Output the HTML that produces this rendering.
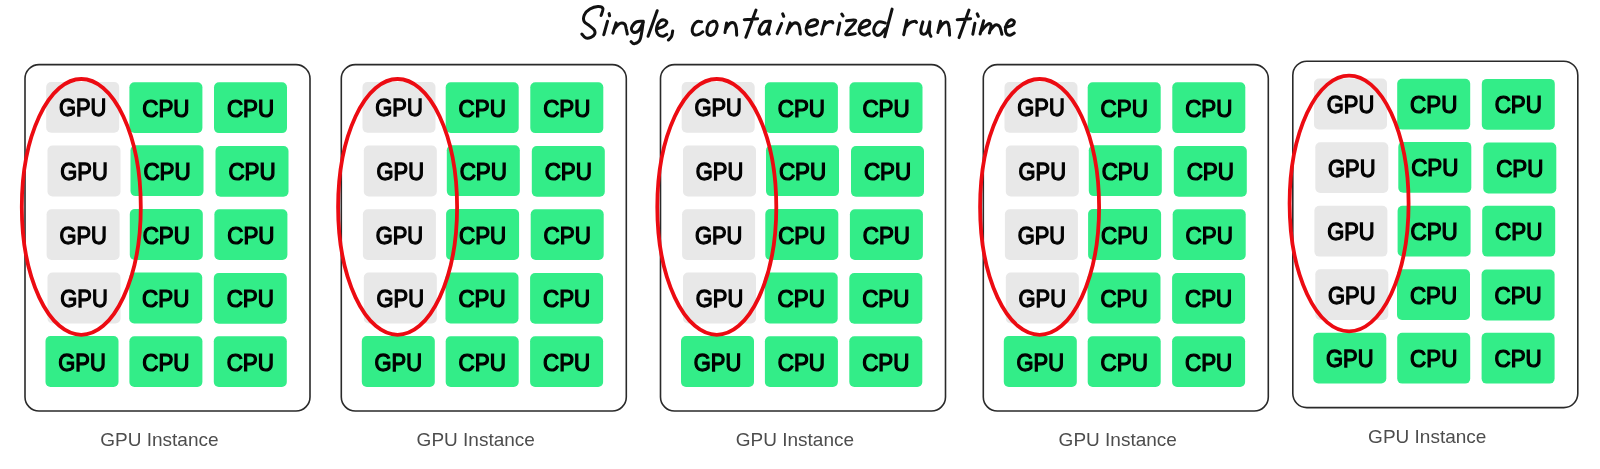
<!DOCTYPE html>
<html><head><meta charset="utf-8"><style>
html,body{margin:0;padding:0;background:#fff;width:1600px;height:469px;overflow:hidden}
svg{display:block;will-change:transform}
.c{font-family:"Liberation Sans",sans-serif;font-weight:normal;font-size:23.8px;text-anchor:middle;fill:#000;stroke:#000;stroke-width:1.25px}
.l{font-family:"Liberation Sans",sans-serif;font-size:19px;fill:#4d4d4d}
</style></head><body>
<svg width="1600" height="469" viewBox="0 0 1600 469">
<path d="M601.1 15.5C601.4 14.3 603.4 10.0 602.9 8.5C602.4 7.0 600.1 6.3 597.9 6.4C595.7 6.5 592.1 7.7 589.9 9.1C587.6 10.5 585.4 12.9 584.4 14.9C583.4 16.9 583.3 19.5 584.1 21.3C584.9 23.1 587.7 24.2 589.4 25.6C591.1 27.0 593.3 28.5 594.2 29.9C595.1 31.3 595.2 32.9 594.7 34.1C594.2 35.3 592.5 36.7 591.0 37.3C589.5 37.9 587.2 38.4 585.7 37.9C584.2 37.4 582.5 34.7 581.9 34.1M609.1 13.6L609.6 15.8M607.5 21.3L603.8 34.7M616.1 22.9L612.9 33.1M614.5 28.8C615.4 27.9 618.1 24.3 619.8 23.5C621.5 22.7 623.5 23.1 624.6 24.0C625.7 24.9 625.8 27.1 626.2 28.8C626.7 30.5 627.1 33.2 627.3 34.1M643.3 21.3C642.1 21.4 638.3 20.8 636.4 21.9C634.5 23.0 632.1 26.0 631.6 27.7C631.1 29.4 632.1 31.5 633.2 32.0C634.4 32.5 636.8 32.5 638.5 30.9C640.2 29.3 642.5 23.8 643.3 22.4M643.3 21.3C642.8 24.3 641.6 35.8 640.1 39.5C638.6 43.2 635.8 43.4 634.3 43.7C632.8 44.1 631.6 42.0 631.1 41.6M657.2 10.7L648.1 36.3M657.5 28.6C658.4 28.3 661.6 27.6 663.1 26.7C664.6 25.8 666.5 24.0 666.8 22.9C667.1 21.8 665.8 20.5 664.7 20.1C663.6 19.8 661.6 19.9 660.4 20.8C659.1 21.7 657.9 23.9 657.2 25.6C656.6 27.3 656.2 29.3 656.5 30.9C656.8 32.5 657.7 34.3 658.8 35.2C659.9 36.1 661.8 36.4 663.1 36.3C664.4 36.1 666.2 34.6 666.8 34.3M672.7 30.9C672.5 31.8 672.3 34.8 671.6 36.3C670.9 37.8 668.9 39.4 668.4 40.0M701.5 21.8C700.8 21.8 698.4 20.9 697.0 21.6C695.6 22.3 694.0 24.3 693.2 26.0C692.4 27.7 692.1 30.5 692.4 32.0C692.7 33.5 694.1 34.6 695.2 35.0C696.3 35.4 697.7 34.9 699.0 34.4C700.3 33.9 702.2 32.2 702.8 31.8M713.8 21.3C713.0 21.7 710.1 21.9 709.0 23.5C707.9 25.1 706.9 28.9 706.9 30.9C706.9 32.9 707.9 34.7 709.0 35.2C710.1 35.7 712.5 35.5 713.8 34.1C715.1 32.7 716.6 28.7 717.0 26.7C717.4 24.7 716.6 22.8 715.9 21.9C715.2 21.0 713.2 21.4 712.7 21.3M726.6 22.9L725.0 32.5M726.1 28.8C726.7 27.9 728.5 24.5 729.8 23.5C731.1 22.5 733.0 22.2 734.1 22.9C735.2 23.6 735.8 25.6 736.2 27.7C736.6 29.8 736.6 34.0 736.7 35.2M756.0 10.1L745.9 37.3M744.3 19.7L757.6 18.7M769.3 21.3C768.3 21.5 765.2 21.0 763.5 22.4C761.8 23.8 759.7 27.9 759.2 29.9C758.8 31.8 759.7 33.8 760.8 34.1C761.9 34.5 764.1 33.9 765.6 32.0C767.1 30.1 769.2 24.4 769.9 22.9M770.4 21.3C770.0 22.9 768.5 28.8 768.3 30.9C768.1 33.0 769.1 33.6 769.3 34.1M782.7 13.9L783.7 16.3M781.6 23.5L777.3 33.6M790.1 22.9L786.9 33.1M788.0 29.9C788.9 28.8 791.6 24.5 793.3 23.5C795.0 22.5 797.0 23.1 798.1 24.0C799.2 24.9 799.3 27.1 799.7 28.8C800.1 30.5 800.2 33.2 800.3 34.1M807.3 27.2C808.7 26.9 814.1 26.1 815.8 25.1C817.5 24.1 817.7 22.2 817.4 21.3C817.1 20.4 815.6 19.6 814.2 19.7C812.8 19.8 810.2 20.5 808.9 21.9C807.6 23.3 806.4 26.4 806.2 28.3C806.0 30.2 806.8 32.5 807.8 33.6C808.8 34.8 810.7 35.2 812.1 35.2C813.5 35.2 815.6 33.9 816.3 33.6M824.8 21.5L821.6 34.0M823.5 26.2C824.1 25.6 825.6 23.6 827.0 22.8C828.4 22.0 830.8 21.6 831.8 21.6C832.8 21.6 832.6 22.7 832.8 22.9M841.8 14.0L843.0 16.0M839.8 23.0L837.6 34.2M846.5 20.8C848.0 20.8 855.9 18.7 855.8 20.9C855.6 23.1 845.7 31.9 845.6 34.0C845.5 36.1 853.6 33.7 855.2 33.6M860.1 28.3C861.4 27.9 866.5 26.7 868.1 25.6C869.7 24.5 870.0 22.8 869.7 21.9C869.4 21.0 867.8 20.1 866.5 20.3C865.2 20.5 862.9 21.5 861.7 22.9C860.5 24.3 859.3 27.0 859.1 28.8C858.9 30.6 859.7 32.5 860.7 33.6C861.7 34.7 863.5 35.2 864.9 35.2C866.3 35.2 868.5 33.9 869.2 33.6M885.2 22.9C884.1 22.7 880.6 21.3 878.8 21.9C877.0 22.5 875.3 25.0 874.5 26.7C873.7 28.4 873.6 30.6 874.0 32.0C874.4 33.4 875.6 34.9 876.7 35.2C877.9 35.6 879.5 35.2 880.9 34.1C882.3 33.0 884.5 29.7 885.2 28.8M892.1 9.1L884.7 36.8M906.9 20.3L903.7 34.7M905.3 27.7C906.0 26.9 908.0 24.0 909.6 22.9C911.2 21.8 913.8 21.4 914.9 21.3C916.0 21.2 916.2 22.2 916.5 22.4M922.9 21.9C922.5 23.3 920.8 28.4 920.8 30.4C920.8 32.4 921.8 33.8 922.9 34.1C924.0 34.4 926.0 34.0 927.2 32.0C928.4 30.0 929.5 23.6 929.9 21.9M929.9 21.9C929.8 23.6 929.1 29.6 929.3 32.0C929.5 34.4 930.6 35.6 930.9 36.3M940.5 21.3L937.9 32.5M938.9 29.3C939.6 28.3 941.8 24.6 943.2 23.5C944.6 22.4 946.5 21.7 947.5 22.4C948.5 23.1 948.8 25.6 949.1 27.7C949.5 29.8 949.5 34.0 949.6 35.2M969.0 10.1L959.1 37.6M957.2 19.7L970.6 18.7M977.2 13.9L978.3 16.3M974.9 23.2L972.8 34.2M983.6 20.8L980.1 34.0M981.1 31.1C982.1 30.0 985.7 25.9 987.2 24.7C988.8 23.5 989.8 23.5 990.4 23.8C991.0 24.1 991.2 25.1 991.0 26.6C990.8 28.1 989.7 31.9 989.4 33.0M990.0 30.5C990.7 29.7 993.0 26.6 994.2 25.7C995.4 24.8 996.4 24.7 997.4 25.0C998.4 25.3 999.2 25.8 1000.0 27.3C1000.8 28.9 1001.6 33.1 1001.9 34.3M1005.3 27.3C1006.4 27.0 1010.5 26.6 1012.0 25.6C1013.5 24.7 1014.5 22.6 1014.3 21.6C1014.1 20.6 1012.2 19.5 1011.0 19.8C1009.8 20.1 1007.9 21.9 1007.0 23.5C1006.1 25.1 1005.4 27.8 1005.4 29.5C1005.4 31.2 1006.0 33.0 1006.8 34.0C1007.6 35.0 1008.8 35.4 1010.0 35.2C1011.2 35.0 1013.5 33.4 1014.2 33.0" fill="none" stroke="#111" stroke-width="3.0" stroke-linecap="round" stroke-linejoin="round"/>
<g transform="translate(0,0)">
<rect x="25" y="64.6" width="285" height="346.4" rx="14" ry="14" fill="none" stroke="#2a2a2a" stroke-width="1.6"/>
<rect x="46.2" y="82.0" width="73" height="50.8" rx="5" ry="5" fill="#e8e8e8"/>
<text transform="translate(82.70,116.40) scale(0.92,1)" class="c">GPU</text>
<rect x="129.4" y="82.2" width="73" height="50.8" rx="5" ry="5" fill="#33ed88"/>
<text transform="translate(165.90,116.60) scale(0.94,1)" class="c">CPU</text>
<rect x="214.0" y="82.3" width="73" height="50.8" rx="5" ry="5" fill="#33ed88"/>
<text transform="translate(250.50,116.70) scale(0.94,1)" class="c">CPU</text>
<rect x="47.5" y="145.6" width="73" height="50.8" rx="5" ry="5" fill="#e8e8e8"/>
<text transform="translate(84.00,180.00) scale(0.92,1)" class="c">GPU</text>
<rect x="130.5" y="145.3" width="73" height="50.8" rx="5" ry="5" fill="#33ed88"/>
<text transform="translate(167.00,179.70) scale(0.94,1)" class="c">CPU</text>
<rect x="215.5" y="146.0" width="73" height="50.8" rx="5" ry="5" fill="#33ed88"/>
<text transform="translate(252.00,180.40) scale(0.94,1)" class="c">CPU</text>
<rect x="46.6" y="209.2" width="73" height="50.8" rx="5" ry="5" fill="#e8e8e8"/>
<text transform="translate(83.10,243.60) scale(0.92,1)" class="c">GPU</text>
<rect x="129.8" y="209.1" width="73" height="50.8" rx="5" ry="5" fill="#33ed88"/>
<text transform="translate(166.30,243.50) scale(0.94,1)" class="c">CPU</text>
<rect x="214.4" y="209.2" width="73" height="50.8" rx="5" ry="5" fill="#33ed88"/>
<text transform="translate(250.90,243.60) scale(0.94,1)" class="c">CPU</text>
<rect x="47.5" y="272.6" width="73" height="50.8" rx="5" ry="5" fill="#e8e8e8"/>
<text transform="translate(84.00,307.00) scale(0.92,1)" class="c">GPU</text>
<rect x="129.2" y="272.6" width="73" height="50.8" rx="5" ry="5" fill="#33ed88"/>
<text transform="translate(165.70,307.00) scale(0.94,1)" class="c">CPU</text>
<rect x="213.8" y="273.0" width="73" height="50.8" rx="5" ry="5" fill="#33ed88"/>
<text transform="translate(250.30,307.40) scale(0.94,1)" class="c">CPU</text>
<rect x="45.5" y="336.1" width="73" height="50.8" rx="5" ry="5" fill="#33ed88"/>
<text transform="translate(82.00,370.50) scale(0.92,1)" class="c">GPU</text>
<rect x="129.4" y="336.2" width="73" height="50.8" rx="5" ry="5" fill="#33ed88"/>
<text transform="translate(165.90,370.60) scale(0.94,1)" class="c">CPU</text>
<rect x="213.8" y="336.2" width="73" height="50.8" rx="5" ry="5" fill="#33ed88"/>
<text transform="translate(250.30,370.60) scale(0.94,1)" class="c">CPU</text>
<ellipse cx="81.3" cy="206.9" rx="59.5" ry="127.9" fill="none" stroke="#ec0b12" stroke-width="3.8"/>
<text x="100.3" y="446.4" class="l">GPU Instance</text>
</g><g transform="translate(316.3,0)">
<rect x="25" y="64.6" width="285" height="346.4" rx="14" ry="14" fill="none" stroke="#2a2a2a" stroke-width="1.6"/>
<rect x="46.2" y="82.0" width="73" height="50.8" rx="5" ry="5" fill="#e8e8e8"/>
<text transform="translate(82.70,116.40) scale(0.92,1)" class="c">GPU</text>
<rect x="129.4" y="82.2" width="73" height="50.8" rx="5" ry="5" fill="#33ed88"/>
<text transform="translate(165.90,116.60) scale(0.94,1)" class="c">CPU</text>
<rect x="214.0" y="82.3" width="73" height="50.8" rx="5" ry="5" fill="#33ed88"/>
<text transform="translate(250.50,116.70) scale(0.94,1)" class="c">CPU</text>
<rect x="47.5" y="145.6" width="73" height="50.8" rx="5" ry="5" fill="#e8e8e8"/>
<text transform="translate(84.00,180.00) scale(0.92,1)" class="c">GPU</text>
<rect x="130.5" y="145.3" width="73" height="50.8" rx="5" ry="5" fill="#33ed88"/>
<text transform="translate(167.00,179.70) scale(0.94,1)" class="c">CPU</text>
<rect x="215.5" y="146.0" width="73" height="50.8" rx="5" ry="5" fill="#33ed88"/>
<text transform="translate(252.00,180.40) scale(0.94,1)" class="c">CPU</text>
<rect x="46.6" y="209.2" width="73" height="50.8" rx="5" ry="5" fill="#e8e8e8"/>
<text transform="translate(83.10,243.60) scale(0.92,1)" class="c">GPU</text>
<rect x="129.8" y="209.1" width="73" height="50.8" rx="5" ry="5" fill="#33ed88"/>
<text transform="translate(166.30,243.50) scale(0.94,1)" class="c">CPU</text>
<rect x="214.4" y="209.2" width="73" height="50.8" rx="5" ry="5" fill="#33ed88"/>
<text transform="translate(250.90,243.60) scale(0.94,1)" class="c">CPU</text>
<rect x="47.5" y="272.6" width="73" height="50.8" rx="5" ry="5" fill="#e8e8e8"/>
<text transform="translate(84.00,307.00) scale(0.92,1)" class="c">GPU</text>
<rect x="129.2" y="272.6" width="73" height="50.8" rx="5" ry="5" fill="#33ed88"/>
<text transform="translate(165.70,307.00) scale(0.94,1)" class="c">CPU</text>
<rect x="213.8" y="273.0" width="73" height="50.8" rx="5" ry="5" fill="#33ed88"/>
<text transform="translate(250.30,307.40) scale(0.94,1)" class="c">CPU</text>
<rect x="45.5" y="336.1" width="73" height="50.8" rx="5" ry="5" fill="#33ed88"/>
<text transform="translate(82.00,370.50) scale(0.92,1)" class="c">GPU</text>
<rect x="129.4" y="336.2" width="73" height="50.8" rx="5" ry="5" fill="#33ed88"/>
<text transform="translate(165.90,370.60) scale(0.94,1)" class="c">CPU</text>
<rect x="213.8" y="336.2" width="73" height="50.8" rx="5" ry="5" fill="#33ed88"/>
<text transform="translate(250.30,370.60) scale(0.94,1)" class="c">CPU</text>
<ellipse cx="81.3" cy="206.9" rx="59.5" ry="127.9" fill="none" stroke="#ec0b12" stroke-width="3.8"/>
<text x="100.3" y="446.4" class="l">GPU Instance</text>
</g><g transform="translate(635.5,0)">
<rect x="25" y="64.6" width="285" height="346.4" rx="14" ry="14" fill="none" stroke="#2a2a2a" stroke-width="1.6"/>
<rect x="46.2" y="82.0" width="73" height="50.8" rx="5" ry="5" fill="#e8e8e8"/>
<text transform="translate(82.70,116.40) scale(0.92,1)" class="c">GPU</text>
<rect x="129.4" y="82.2" width="73" height="50.8" rx="5" ry="5" fill="#33ed88"/>
<text transform="translate(165.90,116.60) scale(0.94,1)" class="c">CPU</text>
<rect x="214.0" y="82.3" width="73" height="50.8" rx="5" ry="5" fill="#33ed88"/>
<text transform="translate(250.50,116.70) scale(0.94,1)" class="c">CPU</text>
<rect x="47.5" y="145.6" width="73" height="50.8" rx="5" ry="5" fill="#e8e8e8"/>
<text transform="translate(84.00,180.00) scale(0.92,1)" class="c">GPU</text>
<rect x="130.5" y="145.3" width="73" height="50.8" rx="5" ry="5" fill="#33ed88"/>
<text transform="translate(167.00,179.70) scale(0.94,1)" class="c">CPU</text>
<rect x="215.5" y="146.0" width="73" height="50.8" rx="5" ry="5" fill="#33ed88"/>
<text transform="translate(252.00,180.40) scale(0.94,1)" class="c">CPU</text>
<rect x="46.6" y="209.2" width="73" height="50.8" rx="5" ry="5" fill="#e8e8e8"/>
<text transform="translate(83.10,243.60) scale(0.92,1)" class="c">GPU</text>
<rect x="129.8" y="209.1" width="73" height="50.8" rx="5" ry="5" fill="#33ed88"/>
<text transform="translate(166.30,243.50) scale(0.94,1)" class="c">CPU</text>
<rect x="214.4" y="209.2" width="73" height="50.8" rx="5" ry="5" fill="#33ed88"/>
<text transform="translate(250.90,243.60) scale(0.94,1)" class="c">CPU</text>
<rect x="47.5" y="272.6" width="73" height="50.8" rx="5" ry="5" fill="#e8e8e8"/>
<text transform="translate(84.00,307.00) scale(0.92,1)" class="c">GPU</text>
<rect x="129.2" y="272.6" width="73" height="50.8" rx="5" ry="5" fill="#33ed88"/>
<text transform="translate(165.70,307.00) scale(0.94,1)" class="c">CPU</text>
<rect x="213.8" y="273.0" width="73" height="50.8" rx="5" ry="5" fill="#33ed88"/>
<text transform="translate(250.30,307.40) scale(0.94,1)" class="c">CPU</text>
<rect x="45.5" y="336.1" width="73" height="50.8" rx="5" ry="5" fill="#33ed88"/>
<text transform="translate(82.00,370.50) scale(0.92,1)" class="c">GPU</text>
<rect x="129.4" y="336.2" width="73" height="50.8" rx="5" ry="5" fill="#33ed88"/>
<text transform="translate(165.90,370.60) scale(0.94,1)" class="c">CPU</text>
<rect x="213.8" y="336.2" width="73" height="50.8" rx="5" ry="5" fill="#33ed88"/>
<text transform="translate(250.30,370.60) scale(0.94,1)" class="c">CPU</text>
<ellipse cx="81.3" cy="206.9" rx="59.5" ry="127.9" fill="none" stroke="#ec0b12" stroke-width="3.8"/>
<text x="100.3" y="446.4" class="l">GPU Instance</text>
</g><g transform="translate(958.3,0)">
<rect x="25" y="64.6" width="285" height="346.4" rx="14" ry="14" fill="none" stroke="#2a2a2a" stroke-width="1.6"/>
<rect x="46.2" y="82.0" width="73" height="50.8" rx="5" ry="5" fill="#e8e8e8"/>
<text transform="translate(82.70,116.40) scale(0.92,1)" class="c">GPU</text>
<rect x="129.4" y="82.2" width="73" height="50.8" rx="5" ry="5" fill="#33ed88"/>
<text transform="translate(165.90,116.60) scale(0.94,1)" class="c">CPU</text>
<rect x="214.0" y="82.3" width="73" height="50.8" rx="5" ry="5" fill="#33ed88"/>
<text transform="translate(250.50,116.70) scale(0.94,1)" class="c">CPU</text>
<rect x="47.5" y="145.6" width="73" height="50.8" rx="5" ry="5" fill="#e8e8e8"/>
<text transform="translate(84.00,180.00) scale(0.92,1)" class="c">GPU</text>
<rect x="130.5" y="145.3" width="73" height="50.8" rx="5" ry="5" fill="#33ed88"/>
<text transform="translate(167.00,179.70) scale(0.94,1)" class="c">CPU</text>
<rect x="215.5" y="146.0" width="73" height="50.8" rx="5" ry="5" fill="#33ed88"/>
<text transform="translate(252.00,180.40) scale(0.94,1)" class="c">CPU</text>
<rect x="46.6" y="209.2" width="73" height="50.8" rx="5" ry="5" fill="#e8e8e8"/>
<text transform="translate(83.10,243.60) scale(0.92,1)" class="c">GPU</text>
<rect x="129.8" y="209.1" width="73" height="50.8" rx="5" ry="5" fill="#33ed88"/>
<text transform="translate(166.30,243.50) scale(0.94,1)" class="c">CPU</text>
<rect x="214.4" y="209.2" width="73" height="50.8" rx="5" ry="5" fill="#33ed88"/>
<text transform="translate(250.90,243.60) scale(0.94,1)" class="c">CPU</text>
<rect x="47.5" y="272.6" width="73" height="50.8" rx="5" ry="5" fill="#e8e8e8"/>
<text transform="translate(84.00,307.00) scale(0.92,1)" class="c">GPU</text>
<rect x="129.2" y="272.6" width="73" height="50.8" rx="5" ry="5" fill="#33ed88"/>
<text transform="translate(165.70,307.00) scale(0.94,1)" class="c">CPU</text>
<rect x="213.8" y="273.0" width="73" height="50.8" rx="5" ry="5" fill="#33ed88"/>
<text transform="translate(250.30,307.40) scale(0.94,1)" class="c">CPU</text>
<rect x="45.5" y="336.1" width="73" height="50.8" rx="5" ry="5" fill="#33ed88"/>
<text transform="translate(82.00,370.50) scale(0.92,1)" class="c">GPU</text>
<rect x="129.4" y="336.2" width="73" height="50.8" rx="5" ry="5" fill="#33ed88"/>
<text transform="translate(165.90,370.60) scale(0.94,1)" class="c">CPU</text>
<rect x="213.8" y="336.2" width="73" height="50.8" rx="5" ry="5" fill="#33ed88"/>
<text transform="translate(250.30,370.60) scale(0.94,1)" class="c">CPU</text>
<ellipse cx="81.3" cy="206.9" rx="59.5" ry="127.9" fill="none" stroke="#ec0b12" stroke-width="3.8"/>
<text x="100.3" y="446.4" class="l">GPU Instance</text>
</g><g transform="translate(1267.8,-3.4)">
<rect x="25" y="64.6" width="285" height="346.4" rx="14" ry="14" fill="none" stroke="#2a2a2a" stroke-width="1.6"/>
<rect x="46.2" y="82.0" width="73" height="50.8" rx="5" ry="5" fill="#e8e8e8"/>
<text transform="translate(82.70,116.40) scale(0.92,1)" class="c">GPU</text>
<rect x="129.4" y="82.2" width="73" height="50.8" rx="5" ry="5" fill="#33ed88"/>
<text transform="translate(165.90,116.60) scale(0.94,1)" class="c">CPU</text>
<rect x="214.0" y="82.3" width="73" height="50.8" rx="5" ry="5" fill="#33ed88"/>
<text transform="translate(250.50,116.70) scale(0.94,1)" class="c">CPU</text>
<rect x="47.5" y="145.6" width="73" height="50.8" rx="5" ry="5" fill="#e8e8e8"/>
<text transform="translate(84.00,180.00) scale(0.92,1)" class="c">GPU</text>
<rect x="130.5" y="145.3" width="73" height="50.8" rx="5" ry="5" fill="#33ed88"/>
<text transform="translate(167.00,179.70) scale(0.94,1)" class="c">CPU</text>
<rect x="215.5" y="146.0" width="73" height="50.8" rx="5" ry="5" fill="#33ed88"/>
<text transform="translate(252.00,180.40) scale(0.94,1)" class="c">CPU</text>
<rect x="46.6" y="209.2" width="73" height="50.8" rx="5" ry="5" fill="#e8e8e8"/>
<text transform="translate(83.10,243.60) scale(0.92,1)" class="c">GPU</text>
<rect x="129.8" y="209.1" width="73" height="50.8" rx="5" ry="5" fill="#33ed88"/>
<text transform="translate(166.30,243.50) scale(0.94,1)" class="c">CPU</text>
<rect x="214.4" y="209.2" width="73" height="50.8" rx="5" ry="5" fill="#33ed88"/>
<text transform="translate(250.90,243.60) scale(0.94,1)" class="c">CPU</text>
<rect x="47.5" y="272.6" width="73" height="50.8" rx="5" ry="5" fill="#e8e8e8"/>
<text transform="translate(84.00,307.00) scale(0.92,1)" class="c">GPU</text>
<rect x="129.2" y="272.6" width="73" height="50.8" rx="5" ry="5" fill="#33ed88"/>
<text transform="translate(165.70,307.00) scale(0.94,1)" class="c">CPU</text>
<rect x="213.8" y="273.0" width="73" height="50.8" rx="5" ry="5" fill="#33ed88"/>
<text transform="translate(250.30,307.40) scale(0.94,1)" class="c">CPU</text>
<rect x="45.5" y="336.1" width="73" height="50.8" rx="5" ry="5" fill="#33ed88"/>
<text transform="translate(82.00,370.50) scale(0.92,1)" class="c">GPU</text>
<rect x="129.4" y="336.2" width="73" height="50.8" rx="5" ry="5" fill="#33ed88"/>
<text transform="translate(165.90,370.60) scale(0.94,1)" class="c">CPU</text>
<rect x="213.8" y="336.2" width="73" height="50.8" rx="5" ry="5" fill="#33ed88"/>
<text transform="translate(250.30,370.60) scale(0.94,1)" class="c">CPU</text>
<ellipse cx="81.3" cy="206.9" rx="59.5" ry="127.9" fill="none" stroke="#ec0b12" stroke-width="3.8"/>
<text x="100.3" y="446.4" class="l">GPU Instance</text>
</g>
</svg>
</body></html>
